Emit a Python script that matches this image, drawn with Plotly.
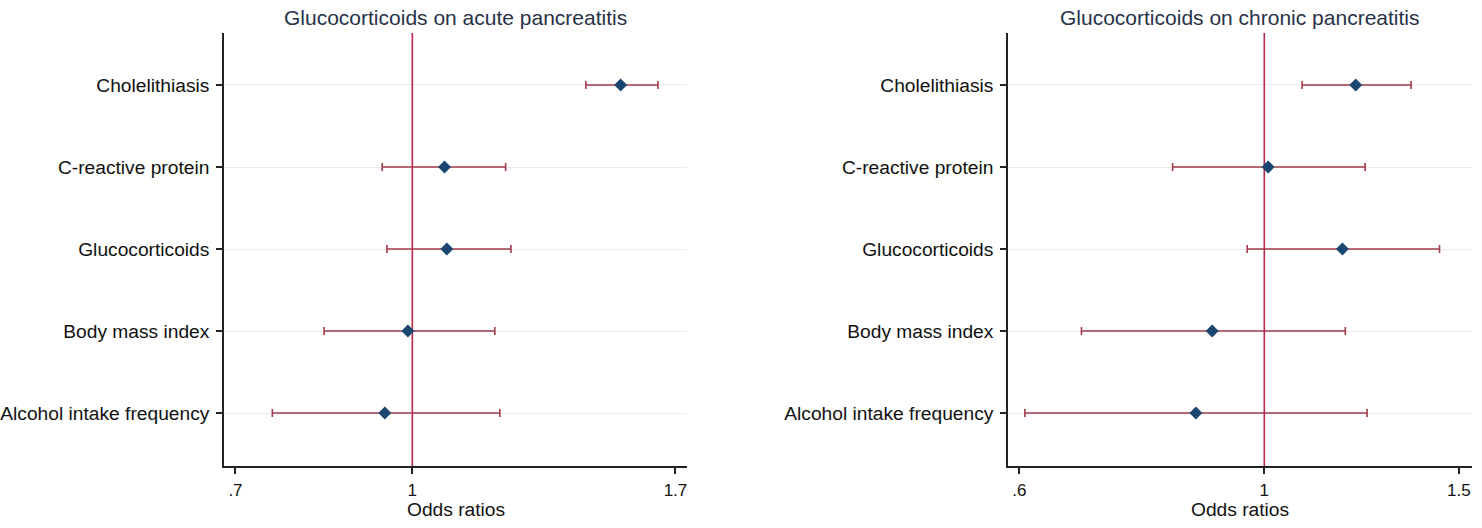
import math
import plotly.graph_objects as go

# Data (bottom to top)
categories = ["Alcohol intake frequency", "Body mass index", "Glucocorticoids",
              "C-reactive protein", "Cholelithiasis"]
acute_or = [0.946, 0.991, 1.072, 1.067, 1.522]
acute_lo = [0.754, 0.837, 0.950, 0.941, 1.419]
acute_hi = [1.193, 1.181, 1.220, 1.207, 1.641]
chronic_or = [0.867, 0.897, 1.177, 1.008, 1.210]
chronic_lo = [0.607, 0.683, 0.965, 0.826, 1.082]
chronic_hi = [1.239, 1.184, 1.441, 1.234, 1.358]

titles = ["Glucocorticoids on acute pancreatitis", "Glucocorticoids on chronic pancreatitis"]
xticks_vals = [[0.7, 1, 1.7], [0.6, 1, 1.5]]
xticks_text = [[".7", "1", "1.7"], [".6", "1", "1.5"]]
xranges = [[0.684, 1.740], [0.586, 1.542]]

FONT = "Liberation Sans, Arial, sans-serif"
NAVY = "#1a476f"
CI_COL = "#a23b4b"
REF_COL = "#b3294a"

W, H = 1482, 528


def px_x(p):
    return p / W


def px_y(p):
    return 1 - p / H


ypos = list(range(len(categories)))
y_range = [-0.646, 4.634]

fig = go.Figure()
panels = [(acute_or, acute_lo, acute_hi), (chronic_or, chronic_lo, chronic_hi)]
for i, (orv, lo, hi) in enumerate(panels):
    xa = "x" if i == 0 else "x2"
    ya = "y" if i == 0 else "y2"
    plus = [h - o for h, o in zip(hi, orv)]
    minus = [o - l for o, l in zip(orv, lo)]
    fig.add_trace(go.Scatter(
        x=orv, y=ypos, mode="markers", xaxis=xa, yaxis=ya,
        marker=dict(size=1, opacity=0, color=NAVY),
        error_x=dict(type="data", array=plus, arrayminus=minus, symmetric=False,
                     color=CI_COL, thickness=1.6, width=4),
        showlegend=False, hoverinfo="skip"))
    fig.add_trace(go.Scatter(
        x=[1, 1], y=y_range, mode="lines", xaxis=xa, yaxis=ya,
        line=dict(color=REF_COL, width=1.6), showlegend=False, hoverinfo="skip"))
    fig.add_trace(go.Scatter(
        x=orv, y=ypos, mode="markers", xaxis=xa, yaxis=ya,
        marker=dict(symbol="diamond", size=10, color=NAVY),
        showlegend=False))

domains = [[px_x(224), px_x(687)], [px_x(1008), px_x(1472)]]
ydom = [px_y(466), px_y(33)]

for i in range(2):
    sfx = "" if i == 0 else "2"
    fig.layout["xaxis" + sfx] = dict(
        type="log", domain=domains[i], anchor="y" + sfx,
        range=[math.log10(xranges[i][0]), math.log10(xranges[i][1])],
        tickvals=xticks_vals[i], ticktext=xticks_text[i],
        showline=True, linecolor="#222222", linewidth=1.6,
        ticks="outside", ticklen=6, tickwidth=1.5, tickcolor="#222222",
        ticklabelstandoff=2, automargin=False,
        showgrid=False, zeroline=False,
        tickfont=dict(family=FONT, size=17, color="#111111"))
    fig.layout["yaxis" + sfx] = dict(
        domain=ydom, anchor="x" + sfx, range=y_range,
        tickvals=ypos, ticktext=categories,
        showline=True, linecolor="#222222", linewidth=1.6,
        ticks="outside", ticklen=6, tickwidth=1.5, tickcolor="#222222",
        ticklabelstandoff=3, automargin=False,
        showgrid=True, gridcolor="#ebebeb", gridwidth=1, zeroline=False,
        tickfont=dict(family=FONT, size=19.2, color="#111111"))
    cx = (domains[i][0] + domains[i][1]) / 2
    fig.add_annotation(text=titles[i], xref="paper", yref="paper",
                       x=cx, y=px_y(17), xanchor="center", yanchor="middle",
                       showarrow=False,
                       font=dict(family=FONT, size=21, color="#283247"))
    fig.add_annotation(text="Odds ratios", xref="paper", yref="paper",
                       x=cx, y=px_y(509), xanchor="center", yanchor="middle",
                       showarrow=False,
                       font=dict(family=FONT, size=19.2, color="#111111"))

fig.update_layout(width=W, height=H, autosize=False,
                  margin=dict(l=0, r=0, t=0, b=0, autoexpand=False),
                  plot_bgcolor="white", paper_bgcolor="white")

fig.write_html("out.html",
               config={"displayModeBar": False},
               post_script="document.body.style.margin='0px';document.body.style.overflow='hidden';")
